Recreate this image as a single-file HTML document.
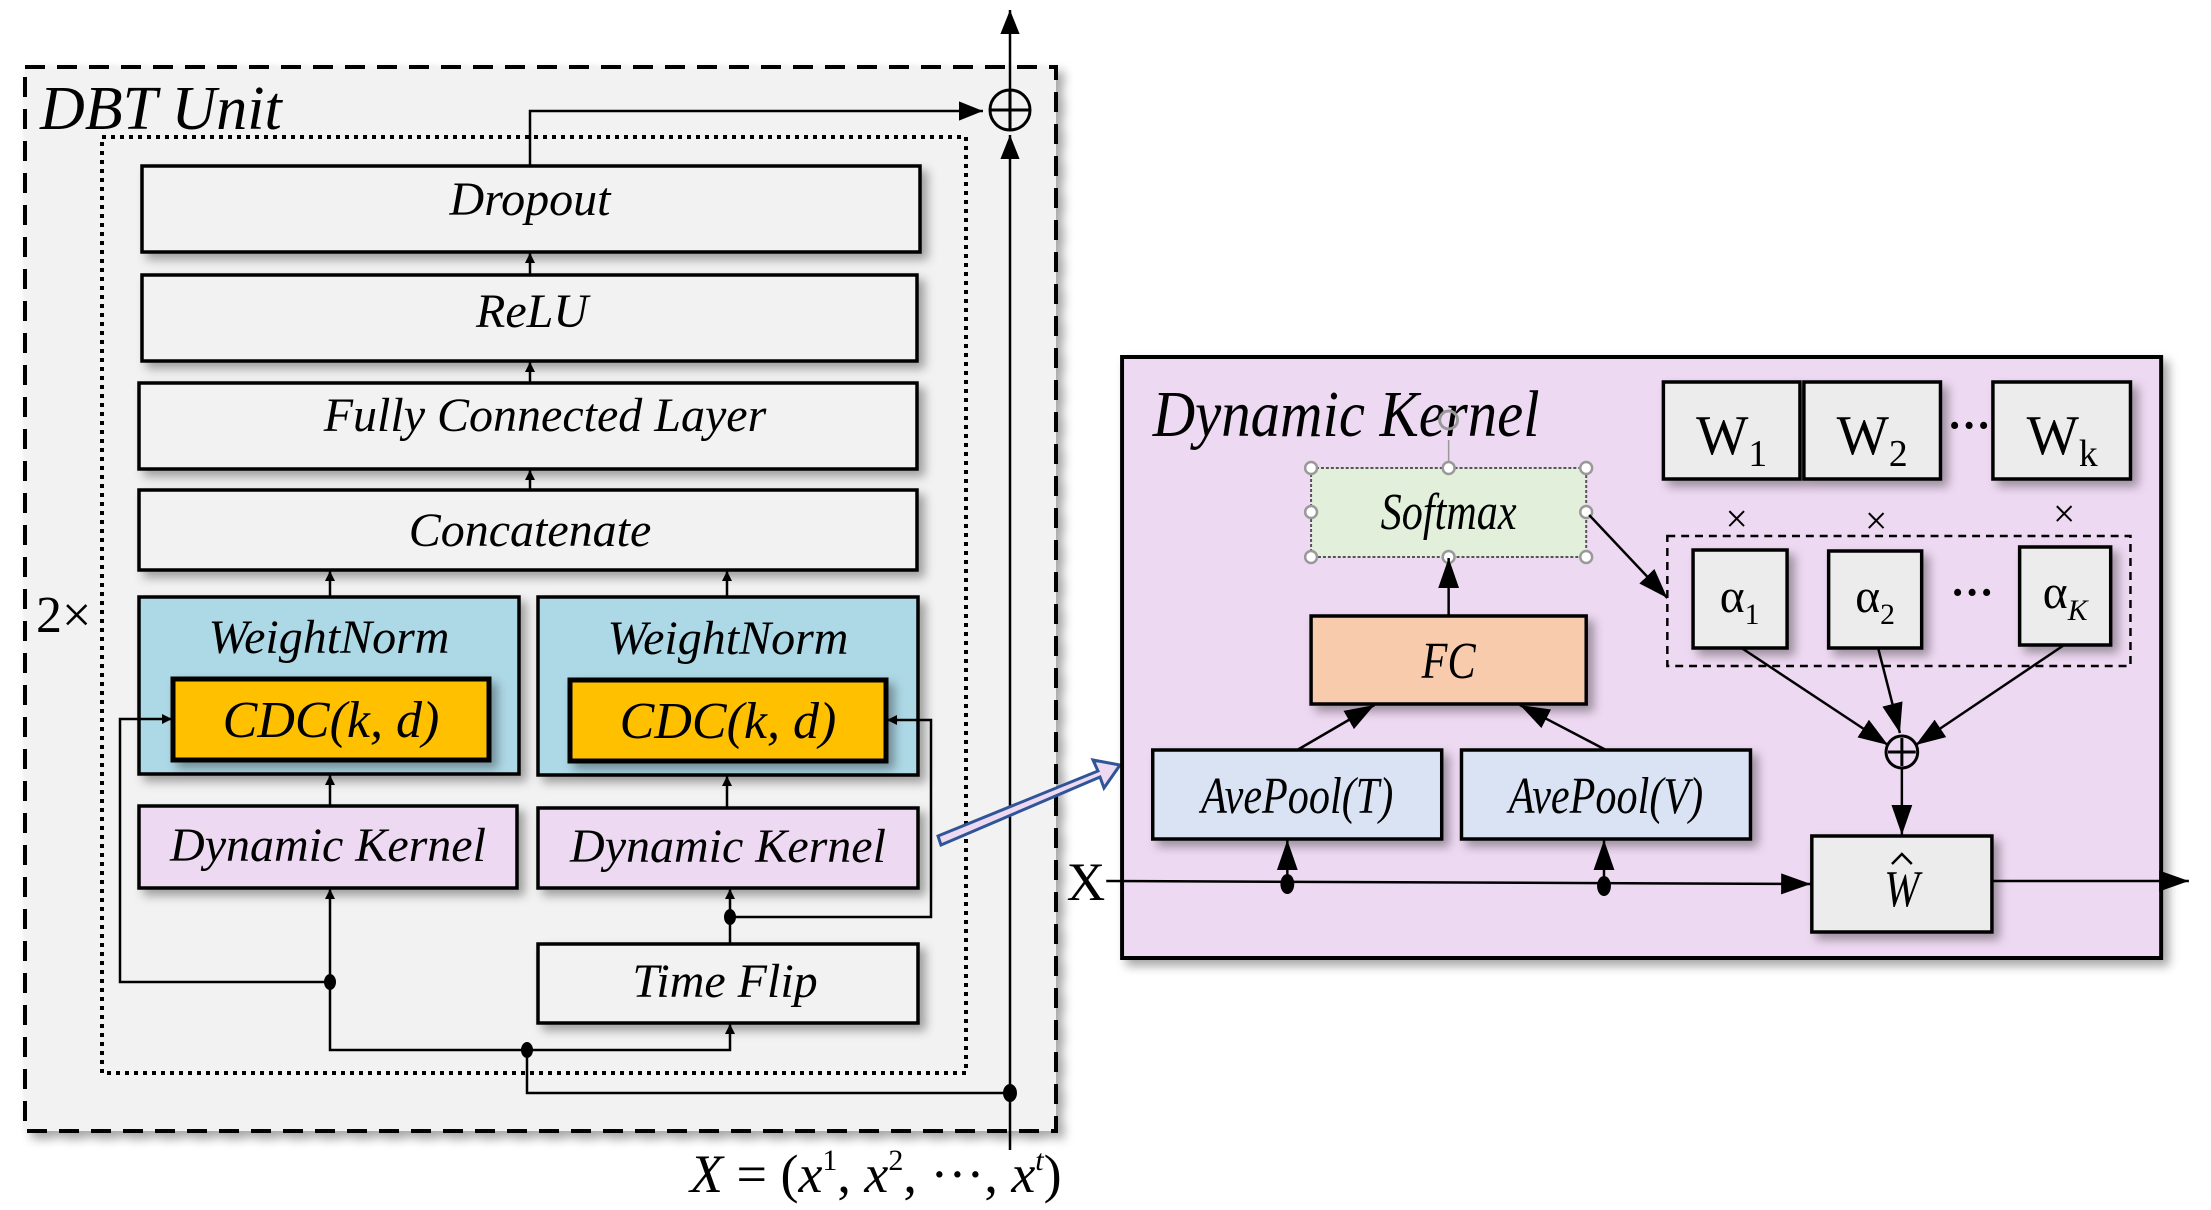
<!DOCTYPE html>
<html><head><meta charset="utf-8"><style>
html,body{margin:0;padding:0;background:#fff;}
svg{display:block;}
text{font-family:"Liberation Serif",serif;}
.it{font-style:italic;}
</style></head><body>
<svg width="2211" height="1210" viewBox="0 0 2211 1210" xmlns="http://www.w3.org/2000/svg">
<defs>
<marker id="a" viewBox="0 0 10 10" refX="10" refY="5" markerWidth="10" markerHeight="10" markerUnits="userSpaceOnUse" orient="auto"><path d="M0,0L10,5L0,10z" fill="#000"/></marker>
<marker id="b" viewBox="0 0 10 10" refX="10" refY="5" markerWidth="24" markerHeight="24" markerUnits="userSpaceOnUse" orient="auto"><path d="M0,1L10,5L0,9z" fill="#000"/></marker>
<marker id="c" viewBox="0 0 10 10" refX="10" refY="5" markerWidth="30" markerHeight="30" markerUnits="userSpaceOnUse" orient="auto"><path d="M0,1.5L10,5L0,8.5z" fill="#000"/></marker>
<filter id="sh" x="-10%" y="-10%" width="130%" height="140%"><feDropShadow dx="6" dy="6" stdDeviation="5" flood-color="#000" flood-opacity="0.35"/></filter>
</defs>

<!-- Outer DBT unit -->
<rect x="25" y="67" width="1031" height="1064" fill="#f2f2f2" stroke="#000" stroke-width="4" stroke-dasharray="20,12" filter="url(#sh)"/>
<text x="40" y="129" class="it" font-size="62">DBT Unit</text>
<rect x="102" y="137" width="864" height="936" fill="none" stroke="#000" stroke-width="4" stroke-dasharray="4,5"/>
<text x="36" y="632" font-size="52">2×</text>

<g stroke="#000" stroke-width="3.5" filter="url(#sh)">
<rect x="142" y="166" width="778" height="86" fill="#f2f2f2"/>
<rect x="142" y="275" width="775" height="86" fill="#f2f2f2"/>
<rect x="139" y="383" width="778" height="86" fill="#f2f2f2"/>
<rect x="139" y="490" width="778" height="80" fill="#f2f2f2"/>
<rect x="139" y="597" width="380" height="177" fill="#add8e6"/>
<rect x="538" y="597" width="380" height="178" fill="#add8e6"/>
<rect x="139" y="806" width="378" height="82" fill="#eed9f2"/>
<rect x="538" y="808" width="380" height="80" fill="#eed9f2"/>
<rect x="538" y="944" width="380" height="79" fill="#f2f2f2"/>
</g>
<g stroke="#000" stroke-width="5" filter="url(#sh)">
<rect x="173" y="679" width="316" height="81" fill="#ffc000"/>
<rect x="570" y="680" width="316" height="81" fill="#ffc000"/>
</g>
<g class="it" font-size="48" text-anchor="middle">
<text x="530" y="215" class="it">Dropout</text>
<text x="532" y="327" class="it">ReLU</text>
<text x="545" y="431" class="it">Fully Connected Layer</text>
<text x="530" y="546" class="it">Concatenate</text>
<text x="329" y="653" class="it">WeightNorm</text>
<text x="728" y="654" class="it">WeightNorm</text>
<text x="331" y="737" class="it" font-size="52">CDC(k, d)</text>
<text x="728" y="738" class="it" font-size="52">CDC(k, d)</text>
<text x="328" y="861" class="it">Dynamic Kernel</text>
<text x="728" y="862" class="it">Dynamic Kernel</text>
<text x="725" y="997" class="it">Time Flip</text>
</g>

<g stroke="#000" stroke-width="2.5" fill="none">
<line x1="530" y1="275" x2="530" y2="253" marker-end="url(#a)"/>
<line x1="530" y1="383" x2="530" y2="362" marker-end="url(#a)"/>
<line x1="530" y1="490" x2="530" y2="470" marker-end="url(#a)"/>
<line x1="330" y1="597" x2="330" y2="571" marker-end="url(#a)"/>
<line x1="727" y1="597" x2="727" y2="571" marker-end="url(#a)"/>
<line x1="330" y1="806" x2="330" y2="775" marker-end="url(#a)"/>
<line x1="727" y1="808" x2="727" y2="776" marker-end="url(#a)"/>
<polyline points="530,166 530,111 983,111" marker-end="url(#b)"/>
<line x1="1010" y1="1150" x2="1010" y2="135" marker-end="url(#b)"/>
<line x1="1010" y1="90" x2="1010" y2="10" marker-end="url(#b)"/>
<line x1="330" y1="982" x2="330" y2="889" marker-end="url(#a)"/>
<polyline points="330,982 120,982 120,719 172,719" marker-end="url(#a)"/>
<polyline points="330,982 330,1050 730,1050 730,1024" marker-end="url(#a)"/>
<polyline points="527,1050 527,1093 1010,1093"/>
<line x1="730" y1="944" x2="730" y2="889" marker-end="url(#a)"/>
<polyline points="730,917 931,917 931,720 887,720" marker-end="url(#a)"/>
</g>
<circle cx="1010" cy="110" r="20" fill="none" stroke="#000" stroke-width="3"/>
<path d="M990,110H1030M1010,90V130" stroke="#000" stroke-width="3"/>
<g fill="#000"><ellipse cx="330" cy="982" rx="6" ry="8"/><ellipse cx="527" cy="1050" rx="6" ry="8"/><ellipse cx="730" cy="917" rx="6" ry="8"/><ellipse cx="1010" cy="1093" rx="7" ry="9"/></g>
<text x="690" y="1192" font-size="54" class="it">X <tspan font-style="normal">= (</tspan>x<tspan font-size="30" dy="-22" font-style="normal">1</tspan><tspan dy="22" font-style="normal">, </tspan>x<tspan font-size="30" dy="-22" font-style="normal">2</tspan><tspan dy="22" font-style="normal">, ···, </tspan>x<tspan font-size="30" dy="-22">t</tspan><tspan dy="22" font-style="normal">)</tspan></text>

<!-- blue arrow -->
<path d="M938,836 L1098,771 L1093,760 L1120,765 L1104,788 L1100,777 L941,845 Z" fill="#eed9f2" stroke="#2f5597" stroke-width="3"/>

<g transform="translate(5.8 0) scale(0.9896 1)">
<!-- Dynamic kernel panel -->
<rect x="1128" y="357" width="1050" height="601" fill="#eed9f2" stroke="#000" stroke-width="4" filter="url(#sh)"/>
<text x="1159" y="436" font-size="66" class="it" transform="translate(1159,436) scale(0.9,1) translate(-1159,-436)">Dynamic Kernel</text>
<g stroke="#000" stroke-width="3.5" filter="url(#sh)">
<rect x="1675" y="382" width="138" height="97" fill="#ececec"/>
<rect x="1817" y="382" width="138" height="97" fill="#ececec"/>
<rect x="2008" y="382" width="139" height="97" fill="#ececec"/>
<rect x="1705" y="550" width="95" height="98" fill="#ececec"/>
<rect x="1842" y="551" width="94" height="97" fill="#ececec"/>
<rect x="2035" y="547" width="92" height="98" fill="#ececec"/>
<rect x="1319" y="616" width="278" height="88" fill="#f8cbad"/>
<rect x="1159" y="750" width="292" height="89" fill="#dae3f3"/>
<rect x="1471" y="750" width="292" height="89" fill="#dae3f3"/>
<rect x="1825" y="836" width="182" height="96" fill="#ececec"/>
</g>
<rect x="1319" y="468" width="278" height="89" fill="#e2efda" stroke="#555" stroke-width="2" stroke-dasharray="3,2"/>
<g fill="#fff" stroke="#999" stroke-width="2.5">
<circle cx="1319" cy="468" r="6"/><circle cx="1458" cy="468" r="6"/><circle cx="1597" cy="468" r="6"/>
<circle cx="1319" cy="512" r="6"/><circle cx="1597" cy="512" r="6"/>
<circle cx="1319" cy="557" r="6"/><circle cx="1458" cy="557" r="6"/><circle cx="1597" cy="557" r="6"/>
</g>
<line x1="1458" y1="440" x2="1458" y2="462" stroke="#999" stroke-width="1.5"/>
<circle cx="1458" cy="420" r="9" fill="none" stroke="#999" stroke-width="3"/>
<rect x="1679" y="536" width="468" height="130" fill="none" stroke="#000" stroke-width="2.5" stroke-dasharray="8,6"/>
<g font-size="56" text-anchor="middle">
<text x="1744" y="454">W<tspan font-size="38" dy="12">1</tspan></text>
<text x="1886" y="454">W<tspan font-size="38" dy="12">2</tspan></text>
<text x="2078" y="454">W<tspan font-size="38" dy="12">k</tspan></text>
<text x="1752" y="612" font-size="48">α<tspan font-size="30" dy="12">1</tspan></text>
<text x="1889" y="612" font-size="48">α<tspan font-size="30" dy="12">2</tspan></text>
<text x="2081" y="608" font-size="48">α<tspan font-size="30" dy="12" class="it">K</tspan></text>
</g>
<g font-size="44" text-anchor="middle" font-weight="bold">
<text x="1984" y="440">···</text>
<text x="1987" y="607">···</text>
</g>
<g font-size="40" text-anchor="middle">
<text x="1749" y="532">×</text><text x="1890" y="534">×</text><text x="2080" y="527">×</text>
</g>
<g class="it" font-size="52" text-anchor="middle">
<text x="1458" y="529" transform="translate(1458,529) scale(0.82,1) translate(-1458,-529)">Softmax</text>
<text x="1458" y="678" transform="translate(1458,678) scale(0.82,1) translate(-1458,-678)">FC</text>
<text x="1305" y="813" transform="translate(1305,813) scale(0.82,1) translate(-1305,-813)">AvePool(T)</text>
<text x="1617" y="813" transform="translate(1617,813) scale(0.82,1) translate(-1617,-813)">AvePool(V)</text>
<text x="1916" y="906" transform="translate(1916,906) scale(0.82,1) translate(-1916,-906)">W</text>
</g>
<path d="M1906,864 L1916,854 L1926,864" fill="none" stroke="#000" stroke-width="2.5"/>
<g stroke="#000" stroke-width="2.5" fill="none">
<line x1="1112" y1="881" x2="1824" y2="884" marker-end="url(#c)"/>
<line x1="2007" y1="881" x2="2206" y2="881" marker-end="url(#c)"/>
<line x1="1295" y1="884" x2="1295" y2="840" marker-end="url(#c)"/>
<line x1="1615" y1="884" x2="1615" y2="840" marker-end="url(#c)"/>
<line x1="1305" y1="750" x2="1383" y2="705" marker-end="url(#c)"/>
<line x1="1617" y1="750" x2="1530" y2="705" marker-end="url(#c)"/>
<line x1="1458" y1="616" x2="1458" y2="558" marker-end="url(#c)"/>
<line x1="1600" y1="515" x2="1679" y2="598" marker-end="url(#c)"/>
<line x1="1754" y1="648" x2="1902" y2="745" marker-end="url(#c)"/>
<line x1="1892" y1="648" x2="1914" y2="733" marker-end="url(#c)"/>
<line x1="2080" y1="645" x2="1930" y2="745" marker-end="url(#c)"/>
<line x1="1916" y1="769" x2="1916" y2="835" marker-end="url(#c)"/>
</g>
<circle cx="1916" cy="752" r="16" fill="none" stroke="#000" stroke-width="3"/>
<path d="M1902,752H1930M1916,738V766" stroke="#000" stroke-width="3"/>
<g fill="#000"><ellipse cx="1295" cy="884" rx="7" ry="10"/><ellipse cx="1615" cy="886" rx="7" ry="10"/></g>
<text x="1072" y="900" font-size="54">X</text>
</g>
</svg>
</body></html>
